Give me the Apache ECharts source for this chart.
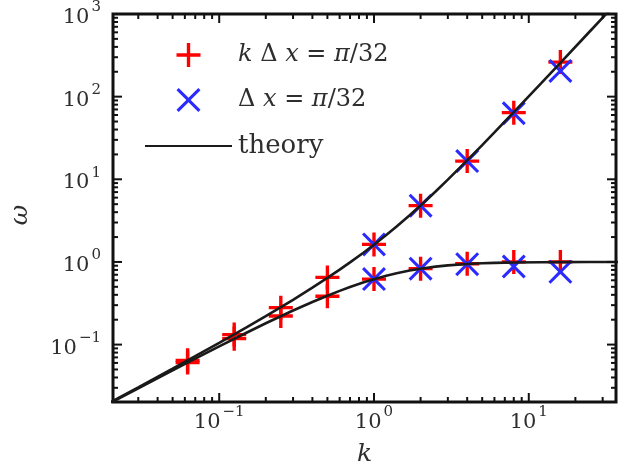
<!DOCTYPE html>
<html>
<head>
<meta charset="utf-8">
<script src="https://cdn.jsdelivr.net/npm/echarts@6/dist/echarts.min.js"></script>
<style>html,body{margin:0;padding:0;background:#fff;}#c{width:619px;height:472px;}</style>
</head>
<body>
<div id="c"></div>
<script>
// ---- data ----
const kTheory = [0.02,0.03,0.05,0.07,0.1,0.15,0.2,0.3,0.4,0.5,0.6,0.7,0.85,1,1.2,1.4,1.7,2,2.5,3,4,5,6,8,12,16,24,32,40];
const theoryUpper = [0.0202,0.03045,0.05127,0.07249,0.10512,0.16167,0.2210,0.34836,0.48792,0.64039,0.80642,0.98664,1.28483,1.61803,2.11943,2.68892,3.67615,4.82843,7.12695,9.90833,16.9443,25.9629,36.9737,64.9848,144.993,256.996,576.998,1025.0,1601.0];
const theoryLower = [0.0198,0.02955,0.04877,0.06759,0.09512,0.13917,0.1810,0.25836,0.32792,0.39039,0.44642,0.49664,0.56233,0.61803,0.67943,0.72892,0.78615,0.82843,0.87695,0.90833,0.94427,0.96291,0.97367,0.98485,0.99315,0.99612,0.99827,0.99903,0.99938];

const kRed = [0.0625,0.125,0.25,0.5,1,2,4,8,16];
const redUpper = [0.0645,0.132,0.28,0.65,1.63,4.8,16.6,64,262];
const redLower = [0.0606,0.118,0.222,0.385,0.62,0.83,0.95,1.0,1.0];

const kBlue = [1,2,4,8,16];
const blueUpper = [1.63,4.8,16.6,63,205];
const blueLower = [0.62,0.83,0.94,0.88,0.76];

const xMajorTicks = [0.1,1,10];
const xMinorTicks = [0.03,0.04,0.05,0.06,0.07,0.08,0.09,0.2,0.3,0.4,0.5,0.6,0.7,0.8,0.9,2,3,4,5,6,7,8,9,20,30];
const yMajorTicks = [0.1,1,10,100,1000];
const yMinorTicks = [0.03,0.04,0.05,0.06,0.07,0.08,0.09,0.2,0.3,0.4,0.5,0.6,0.7,0.8,0.9,2,3,4,5,6,7,8,9,20,30,40,50,60,70,80,90,200,300,400,500,600,700,800,900];

const nameRed = 'kΔx = π/32';
const nameBlue = 'Δx = π/32';
const nameTheory = 'theory';
const xTitle = 'k';
const yTitle = 'ω';

// ---- build ----
const plusPath = 'path://M8.6,0H11.4V8.6H20V11.4H11.4V20H8.6V11.4H0V8.6H8.6Z';
const crossPath = 'path://M0,1.8L1.8,0L10,8.2L18.2,0L20,1.8L11.8,10L20,18.2L18.2,20L10,11.8L1.8,20L0,18.2L8.2,10Z';
const FONT = 'DejaVu Serif';
const TXT = '#2e2e2e';

function pairs(xs, ys){ return xs.map((x,i)=>[x, ys[i]]); }
const redData = pairs(kRed, redUpper).concat(pairs(kRed, redLower));
const blueData = pairs(kBlue, blueUpper).concat(pairs(kBlue, blueLower));

const xTickData = xMajorTicks.map(v=>[v,1,1]).concat(xMinorTicks.map(v=>[v,1,0]));
const yTickData = yMajorTicks.map(v=>[1,v,1]).concat(yMinorTicks.map(v=>[1,v,0]));

function decadeLabel(v){
  const e = Math.round(Math.log10(v));
  if (Math.abs(Math.log10(v) - e) > 1e-6) return '';
  return '{b|10}{s|' + (e < 0 ? '\u2212' + (-e) : e) + '}';
}
const labelRich = {
  b: {fontFamily: FONT, fontSize: 21, color: TXT, lineHeight: 28, verticalAlign: 'bottom'},
  s: {fontFamily: FONT, fontSize: 15, color: TXT, lineHeight: 15, verticalAlign: 'top', padding: [0,0,0,2]}
};
const tickStyle = {stroke: '#111', lineWidth: 2};

const chart = echarts.init(document.getElementById('c'), null, {renderer: 'canvas'});
chart.setOption({
  backgroundColor: '#fff',
  animation: false,
  grid: {left: 113, right: 3, top: 13, bottom: 67, show: true, borderColor: '#111', borderWidth: 3, backgroundColor: 'transparent'},
  graphic: [{
    type: 'text', x: 20, y: 215, rotation: Math.PI / 2, z: 10,
    style: {text: yTitle, fontFamily: FONT, fontStyle: 'italic', fontSize: 25, fill: TXT, align: 'center', verticalAlign: 'middle'}
  }],
  xAxis: {
    type: 'log', logBase: 10, min: 0.0206, max: 36.6,
    name: xTitle, nameLocation: 'middle', nameGap: 40,
    nameTextStyle: {fontFamily: FONT, fontStyle: 'italic', fontSize: 25, color: TXT},
    axisLine: {show: false}, axisTick: {show: false}, splitLine: {show: false}, minorTick: {show: false},
    axisLabel: {formatter: decadeLabel, rich: labelRich, margin: 3, showMinLabel: false, showMaxLabel: false}
  },
  yAxis: {
    type: 'log', logBase: 10, min: 0.0202, max: 1000,
    axisLine: {show: false}, axisTick: {show: false}, splitLine: {show: false}, minorTick: {show: false},
    axisLabel: {formatter: decadeLabel, rich: labelRich, margin: 12, showMinLabel: false}
  },
  legend: {
    orient: 'vertical', left: 139, top: 38, itemWidth: 87, itemHeight: 24, itemGap: 21,
    data: [nameRed, nameBlue, {name: nameTheory, itemStyle: {color: 'rgba(0,0,0,0)', borderWidth: 0, opacity: 0}}],
    formatter: function(name){
      if (name === nameRed) return '{i|k }{n|Δ }{i|x }{n|= }{i|π}{n|/32}';
      if (name === nameBlue) return '{n|Δ }{i|x }{n|= }{i|π}{n|/32}';
      return '{t|theory}';
    },
    textStyle: {
      padding: [0,0,0,1],
      rich: {
        i: {fontFamily: FONT, fontStyle: 'italic', fontSize: 24, color: TXT},
        n: {fontFamily: FONT, fontSize: 24, color: TXT},
        t: {fontFamily: FONT, fontSize: 26, color: TXT}
      }
    }
  },
  series: [
    {name: nameTheory, type: 'line', data: pairs(kTheory, theoryUpper), symbol: 'none', smooth: false,
     lineStyle: {color: '#1a1a1a', width: 2.6}, itemStyle: {color: 'rgba(0,0,0,0)'}, clip: true, silent: true},
    {name: nameTheory, type: 'line', data: pairs(kTheory, theoryLower), symbol: 'none', smooth: false,
     lineStyle: {color: '#1a1a1a', width: 2.6}, itemStyle: {color: 'rgba(0,0,0,0)'}, clip: true, silent: true},
    {name: nameRed, type: 'scatter', data: redData, symbol: plusPath, symbolSize: 24, symbolKeepAspect: true,
     itemStyle: {color: '#ff0000', opacity: 1}},
    {name: nameBlue, type: 'scatter', data: blueData, symbol: crossPath, symbolSize: 24, symbolKeepAspect: true,
     itemStyle: {color: '#2b2bff', opacity: 1}},
    {type: 'custom', data: xTickData, encode: {x: 0, y: 1}, silent: true, clip: false, z: 5,
     renderItem: function(params, api){
       const cs = params.coordSys;
       const x = api.coord([api.value(0), 1])[0];
       const len = api.value(2) ? 9 : 5;
       const yb = cs.y + cs.height, yt = cs.y;
       return {type: 'group', children: [
         {type: 'line', shape: {x1: x, y1: yb, x2: x, y2: yb - len}, style: tickStyle},
         {type: 'line', shape: {x1: x, y1: yt, x2: x, y2: yt + len}, style: tickStyle}
       ]};
     }},
    {type: 'custom', data: yTickData, encode: {x: 0, y: 1}, silent: true, clip: false, z: 5,
     renderItem: function(params, api){
       const cs = params.coordSys;
       const y = api.coord([1, api.value(1)])[1];
       const len = api.value(2) ? 9 : 5;
       const xl = cs.x, xr = cs.x + cs.width;
       return {type: 'group', children: [
         {type: 'line', shape: {x1: xl, y1: y, x2: xl + len, y2: y}, style: tickStyle},
         {type: 'line', shape: {x1: xr, y1: y, x2: xr - len, y2: y}, style: tickStyle}
       ]};
     }}
  ]
});
</script>
</body>
</html>
